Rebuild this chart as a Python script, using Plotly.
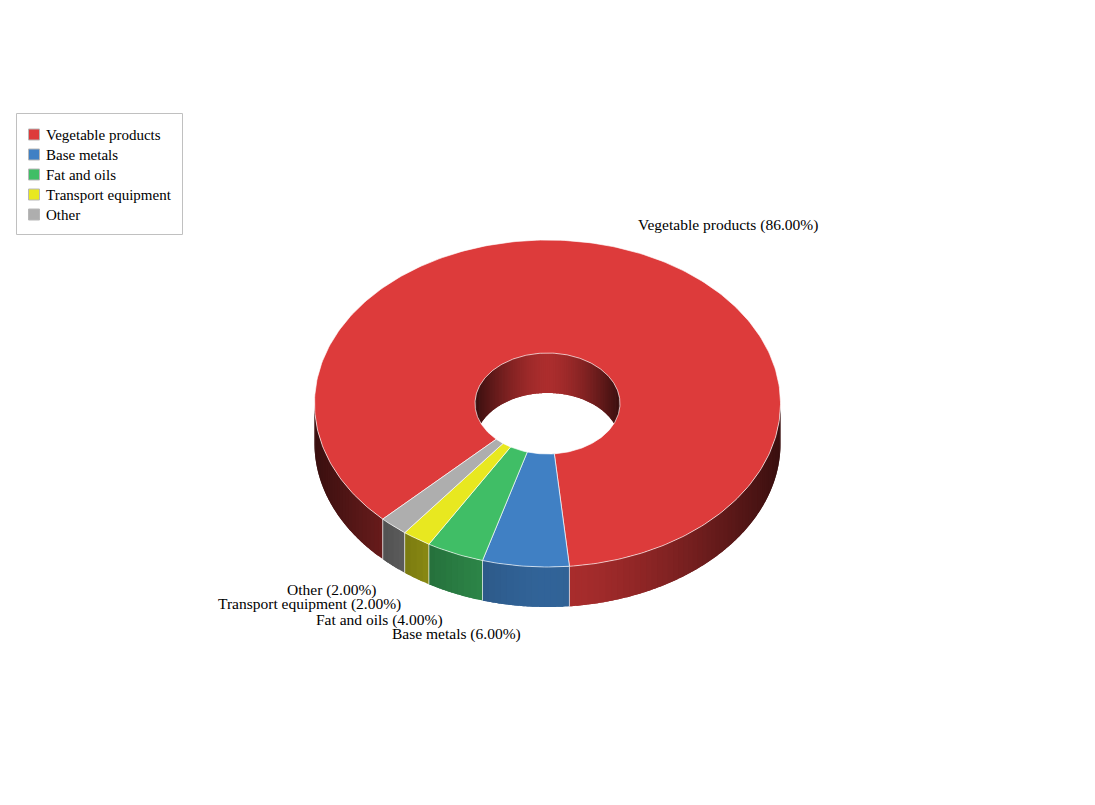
# Donut share of exports drawn as a tilted 3D ring on pixel axes
import math

import plotly.graph_objects as go

categories = ["Vegetable products", "Base metals", "Fat and oils", "Transport equipment", "Other"]
shares = [86, 6, 4, 2, 2]
colors = ["#dd3b3b", "#4080c4", "#40be66", "#e8e820", "#aeaeae"]

WIDTH = 1095
HEIGHT = 805
BODY_MARGIN = 8  # the page keeps the browser's default body margin
CX = 547.5
CY = 403.5
RX = 233
RY = 163.5
HOLE_RX = 72.5
HOLE_RY = 50.5
DEPTH = 40
START_ANGLE = 225
EDGE = "rgba(255,255,255,0.65)"
FONT = "Liberation Serif"
LABEL_SIZE = 15.5
LEGEND_SIZE = 15


def point(rx, ry, angle, drop=0):
    a = math.radians(angle)
    return CX + rx * math.sin(a), CY - ry * math.cos(a) + drop


def arc(rx, ry, a0, a1, drop=0, step=1.0):
    n = max(1, int(abs(a1 - a0) / step))
    pts = [point(rx, ry, a0 + (a1 - a0) * i / n, drop) for i in range(n + 1)]
    return [p[0] for p in pts], [p[1] for p in pts]


def shade(color, angle):
    # walls get darker towards the left and right ends of the ellipse
    t = abs(math.sin(math.radians(angle)))
    f = 0.26 + 0.52 * (1 - t ** 1.5)
    r, g, b = [int(color[i:i + 2], 16) for i in (1, 3, 5)]
    return f"rgb({int(r * f)},{int(g * f)},{int(b * f)})"


def add_poly(fig, xs, ys, fill, line=None, width=1):
    fig.add_trace(go.Scatter(
        x=xs + xs[:1], y=ys + ys[:1], mode="lines" if line else "none", fill="toself",
        fillcolor=fill, line=dict(color=line, width=width) if line else None,
        hoverinfo="skip", showlegend=False,
    ))


def add_wall_strips(fig, rx, ry, a0, a1, color, drop0, drop1, step=1.5):
    n = max(1, int((a1 - a0) / step))
    for i in range(n):
        s0 = a0 + (a1 - a0) * i / n
        s1 = a0 + (a1 - a0) * (i + 1) / n
        # each strip runs under the next one so no seam shows between them
        over = min(a1, s1 + step)
        x0, y0 = arc(rx, ry, s0, over, drop0, 0.5)
        x1, y1 = arc(rx, ry, over, s0, drop1, 0.5)
        add_poly(fig, x0 + x1, y0 + y1, shade(color, (s0 + s1) / 2))


fig = go.Figure()

# slice angles, clockwise from the top of the ring
total = sum(shares)
slices = []
angle = START_ANGLE
for share, color in zip(shares, colors):
    sweep = 360 * share / total
    slices.append((angle, angle + sweep, color))
    angle += sweep

# back of the hole, the top face covers whatever sticks out of it
add_wall_strips(fig, HOLE_RX, HOLE_RY, -90, 90, colors[0], 0, DEPTH)

# outer wall, only the front half of the ring shows
for a0, a1, color in slices:
    for shift in (0, -360):
        lo = max(a0 + shift, 90)
        hi = min(a1 + shift, 270)
        if hi > lo:
            add_wall_strips(fig, RX, RY, lo, hi, color, 0, DEPTH)

for a0, a1, color in slices:
    edge = a1 % 360
    if 90 <= edge <= 270:
        x, y = point(RX, RY, edge)
        fig.add_trace(go.Scatter(
            x=[x, x], y=[y, y + DEPTH], mode="lines",
            line=dict(color=EDGE, width=1), hoverinfo="skip", showlegend=False,
        ))

# top face
for a0, a1, color in slices:
    xo, yo = arc(RX, RY, a0, a1)
    xi, yi = arc(HOLE_RX, HOLE_RY, a1, a0)
    add_poly(fig, xo + xi, yo + yi, color, EDGE, 1)

# slice labels
label_anchors = [(636, 225, "left"), (523, 634, "right"), (445, 620, "right"),
                 (403, 604, "right"), (379, 590, "right")]
for cat, share, (x, y, anchor) in zip(categories, shares, label_anchors):
    fig.add_annotation(
        x=x, y=y, text=f"{cat} ({share:.2f}%)", showarrow=False,
        xanchor=anchor, yanchor="middle",
        font=dict(family=FONT, size=LABEL_SIZE, color="#000000"),
    )

# legend box
fig.add_shape(type="rect", x0=16.5, y0=113.5, x1=182.5, y1=234.5,
              line=dict(color="#c0c0c0", width=1), fillcolor="#ffffff")
for i, (cat, color) in enumerate(zip(categories, colors)):
    y = 134.5 + 20 * i
    fig.add_shape(type="rect", x0=28.5, y0=y - 5.5, x1=39.5, y1=y + 5.5,
                  line=dict(color="#b8b8b8", width=1), fillcolor=color)
    fig.add_annotation(
        x=44, y=y, text=cat, showarrow=False, xanchor="left", yanchor="middle",
        font=dict(family=FONT, size=LEGEND_SIZE, color="#000000"),
    )

fig.update_layout(
    width=WIDTH - BODY_MARGIN, height=HEIGHT - BODY_MARGIN, autosize=False,
    margin=dict(l=0, r=0, t=0, b=0),
    paper_bgcolor="#ffffff", plot_bgcolor="#ffffff",
    showlegend=False,
    xaxis=dict(range=[BODY_MARGIN, WIDTH], visible=False, fixedrange=True),
    yaxis=dict(range=[HEIGHT, BODY_MARGIN], visible=False, fixedrange=True),
)

fig.write_html("out.html")
